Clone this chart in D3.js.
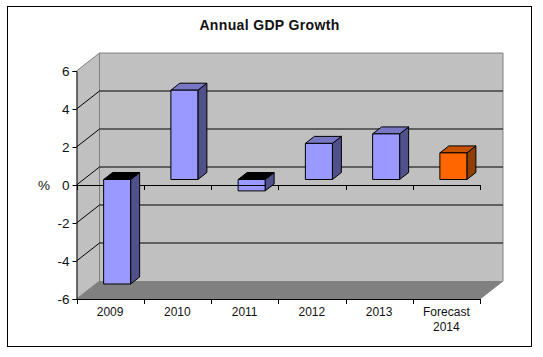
<!DOCTYPE html>
<html><head><meta charset="utf-8">
<script src="https://cdn.jsdelivr.net/npm/d3@7"></script>
<style>html,body{margin:0;padding:0;background:#fff}svg{display:block}text{font-family:"Liberation Sans",Arial,sans-serif;fill:#111}</style>
</head><body><svg id="c" width="543" height="357"></svg>
<script>
const categories = ["2009","2010","2011","2012","2013","Forecast 2014"];
const growth = [-5.5,4.7,-0.6,1.9,2.4,1.4];
const faceColors = ["#9999ff","#9999ff","#9999ff","#9999ff","#9999ff","#ff6600"];
const topColors = ["#000000","#7777c4","#000000","#7777c4","#7777c4","#c45200"];
const sideColors = ["#50508a","#50508a","#50508a","#50508a","#50508a","#8f3f06"];
const yTicks = [6,4,2,0,-2,-4,-6];

const svg = d3.select("#c");
const x = d3.scaleBand().domain(categories).range([76.5,480]);
const y = d3.scaleLinear().domain([-6,6]).range([299,71]);
const wall = {dx:23, dy:-18};
const barPlane = {dx:7, dy:-5.5};
const barDepth = {dx:9, dy:-7};
const barWidth = 27;
const poly = pts => "M"+pts.map(p=>p.join(",")).join("L")+"Z";

svg.append("rect").attr("x",7.5).attr("y",6.5).attr("width",524).attr("height",340).attr("fill","#fff").attr("stroke","#000").attr("stroke-width",1);

svg.append("text").attr("x",269.5).attr("y",30).attr("text-anchor","middle").attr("font-size",14).attr("letter-spacing",0.35).attr("font-weight","bold").text("Annual GDP Growth");

const x0=76.5,x1=480,yT=y(6),yB=y(-6);
// side wall, back wall, floor
svg.append("path").attr("d",poly([[x0,yT],[x0+wall.dx,yT+wall.dy],[x0+wall.dx,yB+wall.dy],[x0,yB]])).attr("fill","#c0c0c0");
svg.append("path").attr("d",poly([[x0+wall.dx,yT+wall.dy],[x1+wall.dx,yT+wall.dy],[x1+wall.dx,yB+wall.dy],[x0+wall.dx,yB+wall.dy]])).attr("fill","#c0c0c0");
svg.append("path").attr("d",poly([[x0,yB],[x0+wall.dx,yB+wall.dy],[x1+wall.dx,yB+wall.dy],[x1,yB]])).attr("fill","#808080");
// wall outlines
svg.append("path").attr("d",`M${x0},${yT}L${x0+wall.dx},${yT+wall.dy}L${x1+wall.dx},${yT+wall.dy}L${x1+wall.dx},${yB+wall.dy}L${x1},${yB}`).attr("fill","none").attr("stroke","#808080").attr("stroke-width",1);
svg.append("path").attr("d",`M${x0+wall.dx},${yT+wall.dy}V${yB+wall.dy}`).attr("stroke","#808080").attr("stroke-width",1);
svg.append("path").attr("d",`M${x0},${yB}L${x0+wall.dx},${yB+wall.dy}`).attr("stroke","#808080").attr("stroke-width",1);

// gridlines
yTicks.filter(t=>t>-6&&t<6).forEach(t=>{
  svg.append("path").attr("d",`M${x0},${y(t)}L${x0+wall.dx},${y(t)+wall.dy}H${x1+wall.dx}`).attr("fill","none").attr("stroke","#000").attr("stroke-width",1);
});

// axes
const yAxis = d3.axisLeft(y).tickValues(yTicks).tickFormat(d=>String(d)).tickSize(4).tickPadding(3);
const ya = svg.append("g").attr("transform",`translate(${x0},0)`).call(yAxis);
ya.selectAll("text").attr("font-size",13.5).attr("font-family","Liberation Sans").style("fill","#111");
ya.select(".domain").attr("stroke","#000");

const xLine = svg.append("g");
[y(0),y(-6)].forEach(yy=>{
  xLine.append("path").attr("d",`M${x0},${yy+.5}H${x1}`).attr("stroke","#000");
  const edges = categories.map(c=>x(c)).concat([x1]);
  xLine.selectAll(null).data(edges).enter().append("line").attr("x1",d=>Math.round(d)+.5).attr("x2",d=>Math.round(d)+.5).attr("y1",yy).attr("y2",yy+5).attr("stroke","#000");
});

// bars
categories.forEach((c,i)=>{
  const v = growth[i];
  const l = x(c)+x.bandwidth()/2+barPlane.dx-barWidth/2, r = l+barWidth;
  const yTop = y(Math.max(v,0))+barPlane.dy, yBot = y(Math.min(v,0))+barPlane.dy;
  const d = barDepth;
  const g = svg.append("g").attr("stroke","#000").attr("stroke-width",1).attr("stroke-linejoin","round");
  g.append("path").attr("d",poly([[r,yTop],[r+d.dx,yTop+d.dy],[r+d.dx,yBot+d.dy],[r,yBot]])).attr("fill",sideColors[i]);
  g.append("path").attr("d",poly([[l,yTop],[l+d.dx,yTop+d.dy],[r+d.dx,yTop+d.dy],[r,yTop]])).attr("fill",topColors[i]);
  g.append("rect").attr("x",l).attr("y",yTop).attr("width",barWidth).attr("height",yBot-yTop).attr("fill",faceColors[i]);
  if (c==="2011") g.append("line").attr("x1",l).attr("x2",r).attr("y1",y(0)+.5).attr("y2",y(0)+.5);
});

// category labels
categories.forEach(c=>{
  const cx = x(c)+x.bandwidth()/2;
  const lines = c==="Forecast 2014" ? ["Forecast","2014"] : [c];
  lines.forEach((t,j)=>svg.append("text").attr("x",cx).attr("y",316+j*15).attr("text-anchor","middle").attr("font-size",12).text(t));
});

svg.append("text").attr("x",44).attr("y",190).attr("text-anchor","middle").attr("font-size",13.5).text("%");
</script></body></html>
